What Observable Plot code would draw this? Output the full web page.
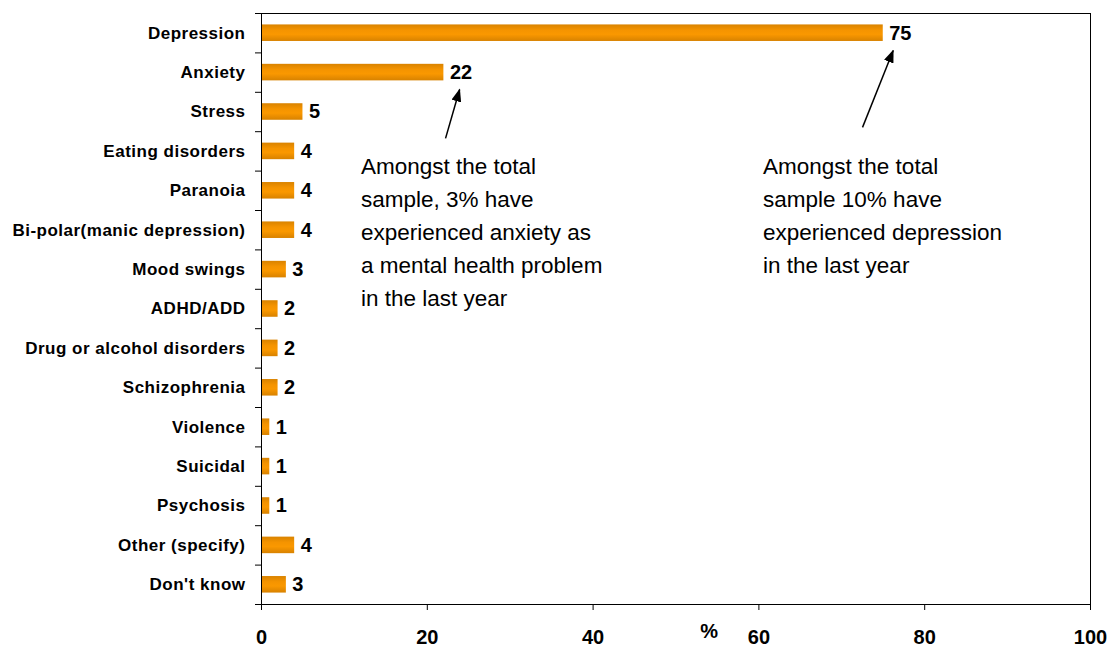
<!DOCTYPE html>
<html>
<head>
<meta charset="utf-8">
<script src="https://cdn.jsdelivr.net/npm/d3@7"></script>
<script src="https://cdn.jsdelivr.net/npm/@observablehq/plot@0.6"></script>
<style>
  html, body { margin: 0; padding: 0; background: #fff; }
  #chart svg { display: block; }
  .cat-labels text { letter-spacing: 0.5px; }
</style>
</head>
<body>
<div id="chart"></div>
<script>
// Mental health problems experienced (%), top to bottom
const categories = [
  "Depression", "Anxiety", "Stress", "Eating disorders", "Paranoia",
  "Bi-polar(manic depression)", "Mood swings", "ADHD/ADD",
  "Drug or alcohol disorders", "Schizophrenia", "Violence", "Suicidal",
  "Psychosis", "Other (specify)", "Don't know"
];
const values = [75, 22, 5, 4, 4, 4, 3, 2, 2, 2, 1, 1, 1, 4, 3];
const xTicks = [0, 20, 40, 60, 80, 100];

// Call-out notes: text, anchor (x in %, y in row units)
const noteTexts = [
  "Amongst the total\nsample, 3% have\nexperienced anxiety as\na mental health problem\nin the last year",
  "Amongst the total\nsample 10% have\nexperienced depression\nin the last year"
];
const noteX = [12, 60.5];
const noteRow = [2.98, 2.98];
// Arrows from each note towards the value it refers to
const arrowX1 = [22.2, 72.5];
const arrowRow1 = [2.67, 2.39];
const arrowX2 = [23.9, 76.2];
const arrowRow2 = [1.43, 0.44];

const rows = categories.map((c, i) => ({category: c, i, value: values[i]}));
const notes = noteTexts.map((t, k) => ({text: t, x: noteX[k], y: noteRow[k]}));
const arrows = arrowX1.map((x1, k) => ({x1, y1: arrowRow1[k], x2: arrowX2[k], y2: arrowRow2[k]}));

const font = "Liberation Sans, Arial, Helvetica, sans-serif";

const chart = Plot.plot({
  width: 1116,
  height: 648,
  marginLeft: 261,
  marginRight: 26,
  marginTop: 13,
  marginBottom: 44,
  style: {fontFamily: font, background: "#fff", color: "#000"},
  x: {domain: [0, 100]},
  y: {domain: [-0.5, categories.length - 0.5], reverse: true},
  marks: [
    Plot.rectX(rows, {
      x1: 0, x2: "value",
      y1: d => d.i - 0.21, y2: d => d.i + 0.21,
      fill: "#F39200",
      className: "bars"
    }),
    Plot.text(rows, {
      x: "value", y: "i", text: d => String(d.value),
      dx: 6, textAnchor: "start", fontSize: 20, fontWeight: "bold", fill: "#000"
    }),
    Plot.frame({stroke: "#000", strokeWidth: 1}),
    // category labels
    Plot.axisY({
      ticks: d3.range(categories.length),
      tickFormat: i => categories[i],
      tickSize: 0, tickPadding: 16,
      fontSize: 17, fontWeight: "bold",
      label: null, className: "cat-labels"
    }),
    // tick marks on the category boundaries
    Plot.axisY({
      ticks: d3.range(-0.5, categories.length + 0.5, 1),
      tickFormat: () => "",
      tickSize: 6, label: null, stroke: "#000"
    }),
    Plot.axisX({
      ticks: xTicks, tickSize: 6, tickPadding: 19,
      fontSize: 20, fontWeight: "bold", label: null, stroke: "#000"
    }),
    Plot.text(["%"], {
      x: 54, frameAnchor: "bottom", dy: 27, lineAnchor: "middle",
      fontSize: 20, fontWeight: "bold", fill: "#000"
    }),
    Plot.text(notes, {
      x: "x", y: "y", text: "text",
      textAnchor: "start", lineAnchor: "top", lineHeight: 1.47,
      fontSize: 22.5, fill: "#000", className: "notes"
    }),
    Plot.link(arrows, {
      x1: "x1", y1: "y1", x2: "x2", y2: "y2",
      stroke: "#000", strokeWidth: 1.5, className: "note-arrows"
    })
  ]
});

// Bar shading and filled arrow heads
const svg = d3.select(chart);
const defs = svg.insert("defs", ":first-child");
const grad = defs.append("linearGradient")
  .attr("id", "barFill").attr("x1", 0).attr("y1", 0).attr("x2", 0).attr("y2", 1);
[[0, "#D98300"], [0.35, "#F59400"], [0.6, "#FA9800"], [1, "#D88200"]].forEach(([o, c]) =>
  grad.append("stop").attr("offset", o).attr("stop-color", c));
defs.append("marker")
  .attr("id", "arrowHead")
  .attr("viewBox", "0 0 13 10")
  .attr("refX", 12).attr("refY", 5)
  .attr("markerWidth", 13).attr("markerHeight", 10)
  .attr("markerUnits", "userSpaceOnUse")
  .attr("orient", "auto")
  .append("path").attr("d", "M0,0L13,5L0,10Z").attr("fill", "#000");

svg.selectAll("g.bars").attr("fill", "url(#barFill)");
svg.selectAll("g.bars rect").attr("fill", "url(#barFill)");
svg.selectAll("g.note-arrows path").attr("marker-end", "url(#arrowHead)");

document.getElementById("chart").append(chart);
</script>
</body>
</html>
